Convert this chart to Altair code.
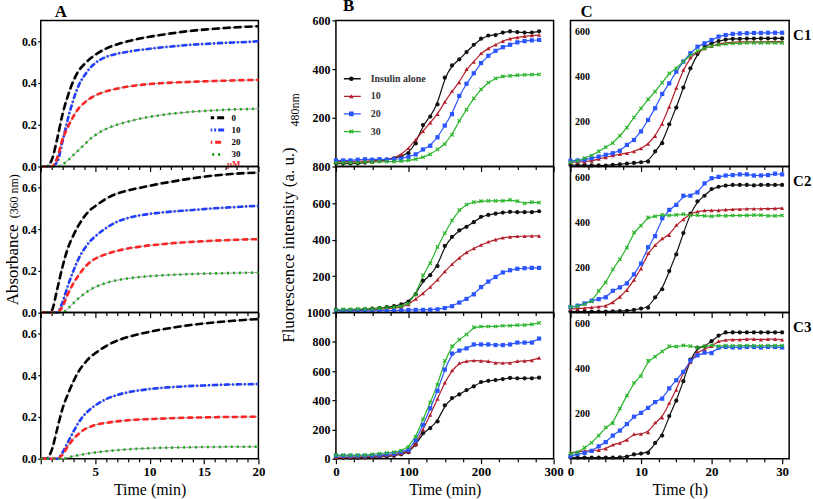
import altair as alt
import pandas as pd

FONT = "Liberation Serif"

# ---------------- Panel A : absorbance (360 nm) vs time (min) ----------------
A_TIME = [0, 0.5, 1, 1.5, 2, 2.5, 3, 3.5, 4, 4.5, 5, 6, 7, 8, 9, 10, 11, 12, 13, 14, 15, 16, 17, 18, 19, 20]
A_SERIES = ["0", "10", "20", "30"]

A1_0 = [0, 0, 0.03, 0.13, 0.25, 0.34, 0.41, 0.46, 0.49, 0.515, 0.535, 0.565, 0.585, 0.6, 0.612, 0.622, 0.63, 0.638, 0.645, 0.651, 0.656, 0.66, 0.664, 0.667, 0.67, 0.672]
A1_10 = [0, 0, 0, 0.02, 0.12, 0.23, 0.32, 0.39, 0.435, 0.47, 0.495, 0.525, 0.54, 0.55, 0.558, 0.564, 0.57, 0.575, 0.58, 0.584, 0.587, 0.59, 0.593, 0.595, 0.597, 0.6]
A1_20 = [0, 0, 0, 0.04, 0.13, 0.19, 0.24, 0.28, 0.305, 0.325, 0.34, 0.36, 0.373, 0.383, 0.39, 0.395, 0.399, 0.402, 0.404, 0.406, 0.408, 0.41, 0.411, 0.413, 0.414, 0.415]
A1_30 = [0, 0, 0, 0, 0.01, 0.03, 0.055, 0.08, 0.105, 0.13, 0.15, 0.18, 0.2, 0.215, 0.228, 0.238, 0.246, 0.253, 0.258, 0.263, 0.266, 0.269, 0.272, 0.274, 0.275, 0.277]

A2_0 = [0, 0, 0.01, 0.11, 0.22, 0.31, 0.37, 0.42, 0.46, 0.49, 0.51, 0.545, 0.57, 0.585, 0.597, 0.608, 0.618, 0.627, 0.636, 0.644, 0.651, 0.657, 0.662, 0.666, 0.669, 0.671]
A2_10 = [0, 0, 0, 0, 0.05, 0.13, 0.2, 0.26, 0.305, 0.34, 0.365, 0.405, 0.435, 0.453, 0.465, 0.473, 0.479, 0.484, 0.488, 0.492, 0.496, 0.5, 0.503, 0.506, 0.509, 0.511]
A2_20 = [0, 0, 0, 0, 0.03, 0.09, 0.14, 0.18, 0.215, 0.24, 0.258, 0.28, 0.296, 0.307, 0.315, 0.322, 0.327, 0.332, 0.336, 0.339, 0.342, 0.345, 0.347, 0.349, 0.351, 0.352]
A2_30 = [0, 0, 0, 0, 0, 0.02, 0.045, 0.07, 0.09, 0.108, 0.122, 0.142, 0.155, 0.164, 0.17, 0.175, 0.178, 0.181, 0.183, 0.185, 0.187, 0.188, 0.189, 0.19, 0.191, 0.192]

A3_0 = [0, 0, 0.04, 0.14, 0.24, 0.31, 0.37, 0.42, 0.455, 0.485, 0.505, 0.54, 0.565, 0.583, 0.597, 0.608, 0.618, 0.627, 0.635, 0.642, 0.648, 0.653, 0.658, 0.662, 0.666, 0.669]
A3_10 = [0, 0, 0, 0, 0.03, 0.08, 0.13, 0.175, 0.21, 0.235, 0.255, 0.285, 0.305, 0.318, 0.327, 0.334, 0.339, 0.343, 0.346, 0.349, 0.351, 0.353, 0.355, 0.356, 0.357, 0.358]
A3_20 = [0, 0, 0, 0, 0.02, 0.06, 0.095, 0.12, 0.14, 0.152, 0.162, 0.172, 0.179, 0.184, 0.188, 0.19, 0.192, 0.194, 0.196, 0.197, 0.198, 0.199, 0.2, 0.2, 0.201, 0.201]
A3_30 = [0, 0, 0, 0, 0, 0.006, 0.012, 0.017, 0.022, 0.026, 0.03, 0.036, 0.041, 0.045, 0.048, 0.05, 0.052, 0.053, 0.054, 0.055, 0.056, 0.056, 0.057, 0.057, 0.057, 0.058]

# ---------------- Panel B : ThT fluorescence vs time (min) ----------------
B_TIME = list(range(0, 290, 10))
BC_SERIES = ["Insulin alone", "10", "20", "30"]

B1_INS = [12, 12, 12, 12, 16, 20, 24, 28, 34, 42, 55, 95, 170, 205, 255, 365, 415, 440, 470, 500, 525, 538, 540, 550, 555, 552, 550, 550, 555]
B1_10 = [20, 20, 20, 22, 22, 24, 25, 28, 35, 50, 75, 110, 145, 180, 215, 265, 310, 345, 400, 430, 465, 485, 500, 515, 525, 530, 535, 538, 540]
B1_20 = [25, 25, 25, 28, 30, 28, 30, 28, 30, 32, 40, 50, 70, 85, 120, 168, 215, 290, 340, 383, 425, 455, 475, 490, 500, 510, 515, 518, 520]
B1_30 = [15, 15, 15, 15, 18, 18, 20, 20, 20, 22, 25, 30, 38, 50, 70, 92, 130, 188, 234, 280, 317, 345, 362, 370, 372, 375, 376, 377, 378]

B2_INS = [15, 15, 15, 15, 18, 22, 25, 30, 35, 45, 60, 100, 175, 205, 255, 365, 415, 450, 470, 495, 525, 535, 542, 548, 552, 550, 550, 550, 555]
B2_10 = [12, 12, 12, 12, 14, 16, 18, 22, 25, 30, 45, 75, 105, 140, 180, 225, 265, 300, 330, 352, 370, 388, 400, 410, 415, 418, 418, 420, 420]
B2_20 = [10, 10, 10, 10, 10, 10, 10, 12, 12, 12, 15, 15, 15, 16, 18, 25, 35, 55, 75, 100, 140, 170, 195, 220, 232, 240, 243, 245, 245]
B2_30 = [15, 18, 18, 20, 20, 20, 25, 28, 30, 35, 50, 100, 205, 270, 360, 435, 505, 562, 592, 605, 610, 612, 612, 612, 617, 610, 598, 605, 602]

B3_INS = [5, 5, 5, 5, 8, 10, 12, 15, 20, 30, 45, 95, 175, 210, 255, 365, 415, 440, 470, 495, 525, 533, 538, 545, 553, 550, 550, 550, 555]
B3_10 = [10, 10, 10, 12, 12, 15, 18, 22, 28, 35, 50, 100, 200, 300, 410, 520, 605, 655, 668, 672, 670, 668, 655, 655, 655, 668, 670, 672, 690]
B3_20 = [20, 20, 20, 20, 20, 22, 25, 30, 35, 45, 60, 125, 230, 345, 465, 610, 720, 740, 755, 782, 782, 782, 778, 778, 782, 795, 795, 795, 822]
B3_30 = [25, 25, 25, 25, 25, 30, 35, 40, 45, 55, 80, 150, 270, 385, 505, 670, 770, 815, 850, 900, 905, 905, 905, 910, 910, 915, 915, 920, 930]

# ---------------- Panel C : ThT fluorescence vs time (h) ----------------
C_TIME = list(range(0, 31))

C1_INS = [7, 6, 6, 5, 5, 4, 7, 10, 13, 16, 19, 22, 67, 104, 188, 262, 351, 437, 501, 533, 548, 558, 565, 568, 568, 569, 569, 570, 570, 570, 570]
C1_10 = [19, 20, 22, 25, 34, 40, 49, 55, 59, 67, 80, 100, 135, 190, 265, 350, 430, 485, 510, 525, 535, 545, 550, 553, 555, 555, 555, 555, 555, 556, 556]
C1_20 = [25, 27, 30, 37, 44, 52, 59, 70, 96, 118, 156, 207, 259, 323, 370, 422, 467, 504, 533, 548, 563, 578, 585, 590, 592, 593, 594, 594, 595, 595, 595]
C1_30 = [19, 25, 37, 49, 67, 86, 104, 136, 173, 218, 259, 299, 333, 373, 415, 437, 467, 496, 514, 526, 536, 541, 545, 548, 548, 550, 550, 550, 550, 550, 550]

C2_INS = [5, 5, 5, 5, 5, 5, 6, 7, 8, 12, 18, 22, 68, 104, 185, 259, 354, 440, 495, 520, 550, 560, 565, 568, 568, 568, 566, 568, 568, 568, 568]
C2_10 = [16, 18, 20, 24, 26, 30, 45, 70, 100, 145, 195, 265, 300, 330, 345, 390, 415, 440, 450, 455, 455, 455, 458, 460, 460, 462, 462, 462, 463, 463, 465]
C2_20 = [24, 31, 41, 53, 60, 68, 97, 112, 130, 170, 218, 291, 340, 420, 457, 479, 520, 520, 535, 575, 598, 604, 610, 612, 615, 615, 610, 610, 612, 618, 615]
C2_30 = [24, 28, 38, 50, 97, 134, 193, 237, 288, 357, 387, 424, 428, 435, 432, 435, 438, 432, 434, 430, 428, 432, 430, 432, 432, 433, 434, 434, 430, 430, 432]

C3_INS = [6, 5, 5, 5, 5, 5, 5, 6, 9, 19, 23, 26, 70, 103, 190, 258, 345, 441, 494, 499, 523, 548, 562, 562, 562, 562, 562, 562, 562, 562, 562]
C3_10 = [26, 30, 35, 35, 38, 45, 62, 70, 84, 110, 110, 117, 161, 183, 248, 306, 386, 429, 475, 487, 501, 523, 528, 530, 530, 532, 532, 530, 532, 532, 530]
C3_20 = [12, 20, 26, 35, 55, 74, 103, 125, 154, 187, 204, 226, 252, 267, 313, 349, 386, 436, 460, 472, 470, 494, 497, 495, 495, 497, 497, 495, 497, 497, 495]
C3_30 = [23, 28, 49, 71, 103, 139, 157, 223, 281, 338, 367, 436, 454, 477, 501, 499, 504, 501, 494, 500, 505, 500, 503, 502, 503, 503, 503, 502, 503, 503, 503]

# ---------------- styles ----------------
A_COLORS = ["#000000", "#1f3dff", "#ff2323", "#1fa81f"]
A_DASHES = [[8, 3], [6, 2, 2, 2], [6, 3], [2, 4]]
BC_COLORS = ["#111111", "#b3202c", "#2b55ff", "#2cb52c"]
X_PATH = "M-1,-0.6L-0.6,-1L0,-0.4L0.6,-1L1,-0.6L0.4,0L1,0.6L0.6,1L0,0.4L-0.6,1L-1,0.6L-0.4,0Z"
BC_SHAPES = ["circle", "triangle-up", "square", X_PATH]
LONG_DASH_SYMBOL = "M-3,0H3"

PW, PH = 219, 147


def long_df(times, names, series):
    rows = []
    for name, vals in zip(names, series):
        for t, v in zip(times, vals):
            rows.append({"t": t, "v": v, "s": name})
    return pd.DataFrame(rows)


def tick_cond(mod, major=5, minor=3):
    return {"condition": {"test": f"datum.value % {mod} === 0", "value": major}, "value": minor}


def text_layer(label, x, y, size, angle=0, weight="normal", color="black", align="center", baseline="middle"):
    return alt.Chart(pd.DataFrame({"lab": [label]})).mark_text(
        font=FONT, fontSize=size, fontWeight=weight, color=color, angle=angle,
        align=align, baseline=baseline
    ).encode(text="lab:N", x=alt.value(x), y=alt.value(y))


def indep(c):
    ch = dict(color="independent", stroke="independent", fill="independent",
              shape="independent", strokeDash="independent")
    return c.resolve_scale(**ch).resolve_legend(**ch)


def panel_title(letter, dx):
    return alt.TitleParams(letter, anchor="start", frame="group", dx=dx, fontSize=17, font=FONT,
                           fontWeight="bold", offset=-1)


# ---------------- panel builders ----------------
def panel_a(series, pos):
    df = long_df(A_TIME, A_SERIES, series)
    bottom = pos == 2
    xax = alt.Axis(values=list(range(0, 21)), tickSize=tick_cond(5), labels=bottom,
                   labelExpr="datum.value % 5 === 0 && datum.value > 0 ? datum.label : ''",
                   labelFontSize=13, labelPadding=2, labelFlush=False, labelOverlap=False,
                   title="Time (min)" if bottom else None, titleFontSize=16, titlePadding=3)
    yax = alt.Axis(values=[0, 0.2, 0.4, 0.6], format=".1f", tickSize=3, labelPadding=1.5,
                   labelFontSize=12, title=None)
    x = alt.X("t:Q", scale=alt.Scale(domain=[0, 20], nice=False, zero=False), axis=xax)
    y = alt.Y("v:Q", scale=alt.Scale(domain=[0, 0.7], nice=False, zero=False), axis=yax)
    leg = None
    if pos == 0:
        leg = alt.Legend(orient="none", legendX=171, legendY=93, direction="vertical",
                         title="µM", titleOrient="bottom", titleColor="#e8262a", titleFont=FONT,
                         titleFontSize=9, titleFontWeight="bold", titleAnchor="end", titlePadding=0,
                         symbolType=LONG_DASH_SYMBOL, symbolSize=36, symbolStrokeWidth=3,
                         clipHeight=10, labelFont=FONT, labelFontSize=9, labelFontWeight="bold",
                         labelOffset=12, rowPadding=2.3, padding=0)
    fit = alt.Chart(df).mark_line(color="#9a9a9a", strokeWidth=1, interpolate="monotone").encode(
        x=x, y=y, detail="s:N")
    dash = alt.Chart(df).mark_line(strokeWidth=2.6, interpolate="monotone", strokeCap="butt").encode(
        x=x, y=y,
        stroke=alt.Stroke("s:N", scale=alt.Scale(domain=A_SERIES, range=A_COLORS), legend=leg),
        strokeDash=alt.StrokeDash("s:N", scale=alt.Scale(domain=A_SERIES, range=A_DASHES), legend=leg))
    layers = [fit, dash]
    props = dict(width=PW, height=PH)
    if pos == 0:
        props["title"] = panel_title("A", 14)
    if pos == 1:
        layers.append(text_layer("Absorbance", -23, 99, 17, angle=270, baseline="alphabetic"))
        layers.append(text_layer("(360 nm)", -23, 30, 12, angle=270, baseline="alphabetic"))
    return alt.layer(*layers).properties(**props)


def panel_bc(series, pos, kind):
    if kind == "B":
        times, xdom, mod, xtitle = B_TIME, [0, 300], 100, "Time (min)"
        xvals = list(range(0, 301, 25))
        ydom = [[0, 600], [0, 800], [0, 1000]][pos]
        yvals = [[200, 400, 600], [200, 400, 600, 800], [0, 200, 400, 600, 800, 1000]][pos]
        yax = alt.Axis(values=yvals, format="d", tickSize=4, labelPadding=2, labelFontSize=12, title=None)
        width = PW
    else:
        times, xdom, mod, xtitle = C_TIME, [0, 31], 10, "Time (h)"
        xvals = [i * 2.5 for i in range(13)]
        ydom = [0, 650]
        yax = alt.Axis(values=[200, 400, 600], format="d", tickSize=0, offset=-4, labelPadding=0,
                       labelAlign="left", labelFontSize=10, title=None)
        width = 220
    df = long_df(times, BC_SERIES, series)
    bottom = pos == 2
    xax = alt.Axis(values=xvals, tickSize=tick_cond(mod), labels=bottom,
                   labelExpr=f"datum.value % {mod} === 0 ? datum.label : ''",
                   labelFontSize=13, labelPadding=2, labelFlush=False, labelOverlap=False,
                   title=xtitle if bottom else None, titleFontSize=16, titlePadding=3)
    x = alt.X("t:Q", scale=alt.Scale(domain=xdom, nice=False, zero=False), axis=xax)
    y = alt.Y("v:Q", scale=alt.Scale(domain=ydom, nice=False, zero=False), axis=yax)
    line_leg = None
    pt_leg = None
    if kind == "B" and pos == 0:
        line_leg = alt.Legend(orient="none", legendX=7, legendY=52.7, title=None,
                              symbolType="stroke", symbolSize=290, symbolStrokeWidth=1.3,
                              clipHeight=12, labelFont=FONT, labelFontSize=10, labelFontWeight="bold",
                              labelColor="#333333", labelOffset=9, rowPadding=5.7, padding=0)
        pt_leg = alt.Legend(orient="none", legendX=10.5, legendY=52.7, title=None,
                            symbolSize=22, symbolStrokeWidth=0, labelExpr="''",
                            clipHeight=12, labelFont=FONT, labelFontSize=10, labelOffset=0,
                            rowPadding=5.7, padding=0)
    line = alt.Chart(df).mark_line(strokeWidth=1.2, interpolate="basis").encode(
        x=x, y=y,
        stroke=alt.Stroke("s:N", scale=alt.Scale(domain=BC_SERIES, range=BC_COLORS), legend=line_leg))
    pts = alt.Chart(df).mark_point(filled=True, size=18, opacity=1).encode(
        x=x, y=y,
        fill=alt.Fill("s:N", scale=alt.Scale(domain=BC_SERIES, range=BC_COLORS), legend=pt_leg),
        shape=alt.Shape("s:N", scale=alt.Scale(domain=BC_SERIES, range=BC_SHAPES), legend=pt_leg))
    layers = [line, pts]
    props = dict(width=width, height=PH)
    if pos == 0:
        props["title"] = panel_title(kind, 7 if kind == "B" else 10)
    if kind == "B" and pos == 1:
        layers.append(text_layer("Fluorescence intensity (a. u.)", -42, 79, 17, angle=270, baseline="alphabetic"))
        layers.append(text_layer("480nm", -37, -57, 12, angle=270, baseline="alphabetic"))
    if kind == "C":
        layers.append(text_layer(f"C{pos + 1}", 224, 15, 15, weight="bold", align="left"))
    return alt.layer(*layers).resolve_legend(stroke="independent").properties(**props)


colA = indep(alt.vconcat(
    panel_a([A1_0, A1_10, A1_20, A1_30], 0),
    panel_a([A2_0, A2_10, A2_20, A2_30], 1),
    panel_a([A3_0, A3_10, A3_20, A3_30], 2),
    spacing=0, bounds="flush"))

colB = indep(alt.vconcat(
    panel_bc([B1_INS, B1_10, B1_20, B1_30], 0, "B"),
    panel_bc([B2_INS, B2_10, B2_20, B2_30], 1, "B"),
    panel_bc([B3_INS, B3_10, B3_20, B3_30], 2, "B"),
    spacing=0, bounds="flush"))

colC = indep(alt.vconcat(
    panel_bc([C1_INS, C1_10, C1_20, C1_30], 0, "C"),
    panel_bc([C2_INS, C2_10, C2_20, C2_30], 1, "C"),
    panel_bc([C3_INS, C3_10, C3_20, C3_30], 2, "C"),
    spacing=0, bounds="flush"))

inner = indep(alt.hconcat(colB, colC, spacing=2))
chart = indep(alt.hconcat(colA, inner, spacing=13)).properties(
    padding={"left": 3, "top": -5, "right": 0, "bottom": 0}, background="white"
).configure_view(
    stroke="black", strokeWidth=1.5
).configure_axis(
    domain=False, grid=False, labelFont=FONT, labelFontWeight="bold", labelColor="black",
    tickColor="black", tickWidth=1.2, titleFont=FONT, titleFontWeight="normal", titleColor="black"
)

chart.save("out.html", embed_options={"renderer": "svg", "actions": False})
